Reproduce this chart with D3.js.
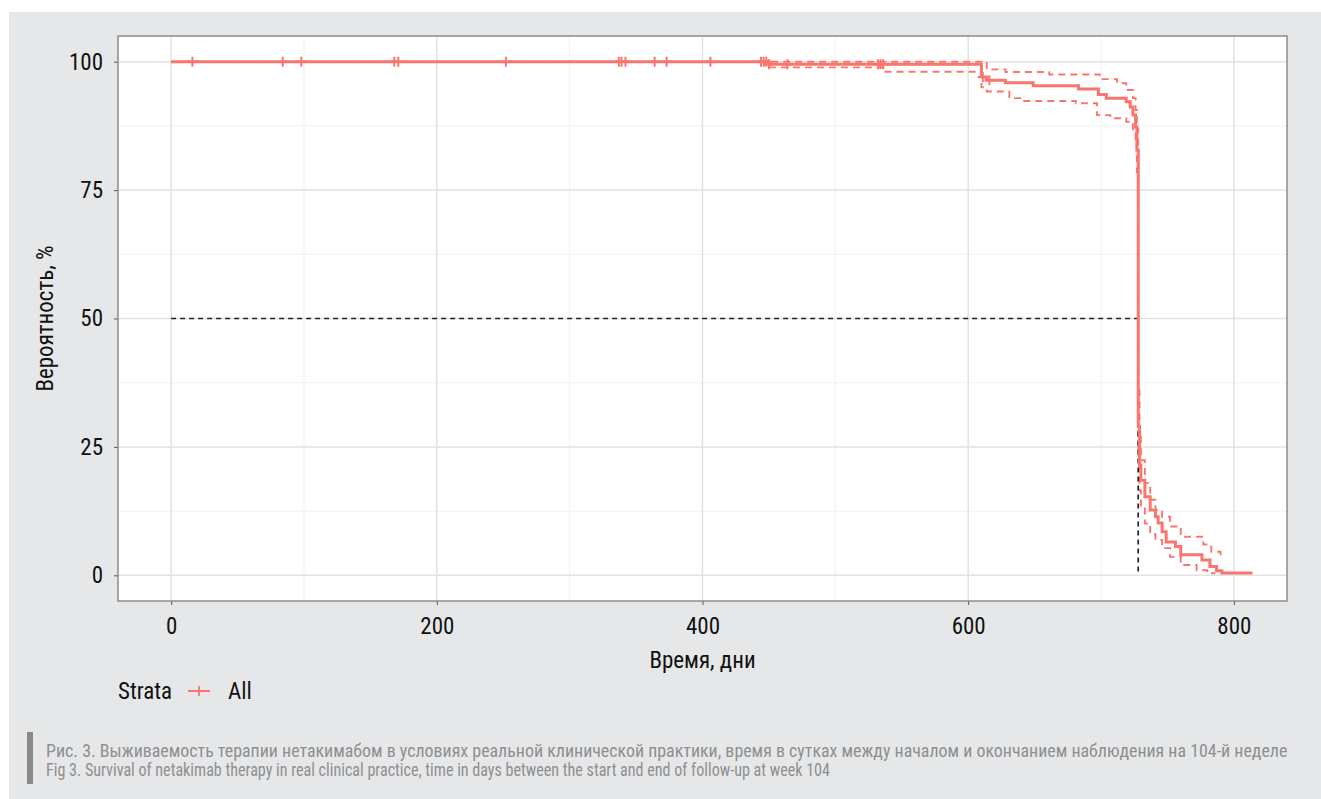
<!DOCTYPE html>
<html>
<head>
<meta charset="utf-8">
<script src="https://cdnjs.cloudflare.com/ajax/libs/d3/7.8.5/d3.min.js"></script>
<style>
body{margin:0;background:#fff;}
text{font-family:"Liberation Sans Narrow","Roboto Condensed","DejaVu Sans Condensed",sans-serif;}
</style>
</head>
<body>
<div id="chart"></div>
<script>
// KM curve, step points (day, %)
const survDays = [0,450,610,614,628,649,683,698,704,719,722,724,726,727,728,729,730,733,737,741,743,746,749,756,760,776,782,787,791,814];
const survPct  = [100,99.5,97.0,96.4,95.9,95.3,94.7,93.6,92.9,92.2,91.2,89.6,87.3,82.8,29,21.5,18.5,15.3,12.7,11.4,10.2,8.5,6.5,5.6,4.0,3.0,1.7,0.9,0.45,0.45];

const upperDays = [0,614,628,661,699,712,719,724,726,727,728,729,730,733,737,741,746,752,760,777,783,790,791.5];
const upperPct  = [100,98.5,98.0,97.5,96.6,95.8,94.5,92.9,90.6,87,36,28,22.4,18,14.7,12.7,11.4,9.5,7.5,6.0,4.6,3.6,3.6];

const lowerDays = [450,536,610,614,631,640,681,697,707,719,724,726,727,728,729,730,733,737,741,746,752,760,772,780,786];
const lowerPct  = [98.9,98.05,95.0,94.2,92.9,92.35,91.9,89.6,89.0,88.3,86.0,84,78.5,23.5,16.5,13.4,10.1,8.0,6.9,5.3,3.6,2.0,1.0,0.4,0.4];

// censored observations
const censorDays = [16,84,98,168,171,252,337,339,342,364,373,406,444,446,448,450,464,532,534,536,611,616];

const medianDay = 728;

const xTicks = [0,200,400,600,800];
const yTicks = [0,25,50,75,100];
const xLabel = "Время, дни";
const yLabel = "Вероятность, %";
const captionRu = "Рис. 3. Выживаемость терапии нетакимабом в условиях реальной клинической практики, время в сутках между началом и окончанием наблюдения на 104-й неделе";
const captionEn = "Fig 3. Survival of netakimab therapy in real clinical practice, time in days between the start and end of follow-up at week 104";

let width=1321, height=799;
let col="#F8766D";

let svg=d3.select("#chart").append("svg").attr("width",width).attr("height",height);

// grey page block
svg.append("rect").attr("x",9).attr("y",12).attr("width",width-9).attr("height",height-12).attr("fill","#e6e7e9");

let pl=118, pt=36, pr=1287, pb=601;

let x=d3.scaleLinear().domain([-40,840]).range([pl,pr]);
let y=d3.scaleLinear().domain([-5,105]).range([pb,pt]);

svg.append("rect").attr("x",pl).attr("y",pt).attr("width",pr-pl).attr("height",pb-pt).attr("fill","#fff");

let grid=svg.append("g");
// minor grid
[100,300,500,700].forEach(d=>{
  grid.append("line").attr("x1",x(d)).attr("x2",x(d)).attr("y1",pt).attr("y2",pb).attr("stroke","#f1f1f1").attr("stroke-width",1);
});
[12.5,37.5,62.5,87.5].forEach(d=>{
  grid.append("line").attr("y1",y(d)).attr("y2",y(d)).attr("x1",pl).attr("x2",pr).attr("stroke","#f1f1f1").attr("stroke-width",1);
});
xTicks.forEach(d=>{
  grid.append("line").attr("x1",x(d)).attr("x2",x(d)).attr("y1",pt).attr("y2",pb).attr("stroke","#e2e2e2").attr("stroke-width",1.5);
});
yTicks.forEach(d=>{
  grid.append("line").attr("y1",y(d)).attr("y2",y(d)).attr("x1",pl).attr("x2",pr).attr("stroke","#e2e2e2").attr("stroke-width",1.5);
});

// axes
let xAxis=svg.append("g").attr("transform","translate(0,"+pb+")")
  .call(d3.axisBottom(x).tickValues(xTicks).tickSize(4).tickPadding(13));
let yAxis=svg.append("g").attr("transform","translate("+pl+",0)")
  .call(d3.axisLeft(y).tickValues(yTicks).tickSize(4).tickPadding(11));
[xAxis,yAxis].forEach(a=>{
  a.select(".domain").remove();
  a.selectAll(".tick line").attr("stroke","#555");
  a.selectAll(".tick text").attr("fill","#111").style("font-size","23px");
});

// CI, dashed
let line=d3.line().x(d=>x(d[0])).y(d=>y(d[1])).curve(d3.curveStepAfter);
svg.append("path").datum(upperDays.map((d,i)=>[d,upperPct[i]]))
  .attr("d",line).attr("fill","none").attr("stroke",col).attr("stroke-width",1.9).attr("stroke-dasharray","7,5");
svg.append("path").datum(lowerDays.map((d,i)=>[d,lowerPct[i]]))
  .attr("d",line).attr("fill","none").attr("stroke",col).attr("stroke-width",1.9).attr("stroke-dasharray","7,5");

// median lines
svg.append("path")
  .attr("d","M"+x(0)+","+y(50)+"H"+x(medianDay)+"V"+y(0))
  .attr("fill","none").attr("stroke","#222").attr("stroke-width",1.7).attr("stroke-dasharray","5,4");

// survival
svg.append("path").datum(survDays.map((d,i)=>[d,survPct[i]]))
  .attr("d",line).attr("fill","none").attr("stroke",col).attr("stroke-width",3);

// censor "+" marks on the curve
function survAt(t){
  let v=survPct[0];
  for(let i=0;i<survDays.length;i++){ if(survDays[i]<=t) v=survPct[i]; }
  return v;
}
svg.append("g").selectAll("path").data(censorDays).join("path")
  .attr("d",d=>"M"+(x(d)-5)+","+y(survAt(d))+"h10M"+x(d)+","+(y(survAt(d))-5)+"v10")
  .attr("stroke",col).attr("stroke-width",2).attr("fill","none");

// panel border
svg.append("rect").attr("x",pl).attr("y",pt).attr("width",pr-pl).attr("height",pb-pt)
  .attr("fill","none").attr("stroke","#8c8c8c").attr("stroke-width",1.5);

// axis titles
svg.append("text").attr("x",(pl+pr)/2).attr("y",668).attr("text-anchor","middle")
  .style("font-size","23px").attr("fill","#111").text(xLabel);
svg.append("text").attr("transform","translate(53,"+((pt+pb)/2)+") rotate(-90)").attr("text-anchor","middle")
  .style("font-size","23px").attr("fill","#111").text(yLabel);

// legend
svg.append("text").attr("x",118).attr("y",699).style("font-size","23px").attr("fill","#111").text("Strata");
svg.append("path").attr("d","M188,691h22M199,686v10").attr("stroke",col).attr("stroke-width",1.8);
svg.append("text").attr("x",228).attr("y",699).style("font-size","23px").attr("fill","#111").text("All");

// caption
svg.append("rect").attr("x",27).attr("y",732).attr("width",6).attr("height",52).attr("fill","#8a8a8a");
let c1=svg.append("text").attr("x",46).attr("y",757).attr("fill","#8f8f8f").style("font-size","19px").text(captionRu);
let c2=svg.append("text").attr("x",46).attr("y",776).attr("fill","#8f8f8f").style("font-size","19px").text(captionEn);
// fit caption width to the reference line length
let w1=c1.node().getComputedTextLength();
let fs=19*1242/w1;
c1.style("font-size",fs+"px");
c2.style("font-size",fs+"px");
// latin line runs narrower in the original font
c2.attr("textLength",784).attr("lengthAdjust","spacingAndGlyphs");
</script>
</body>
</html>
